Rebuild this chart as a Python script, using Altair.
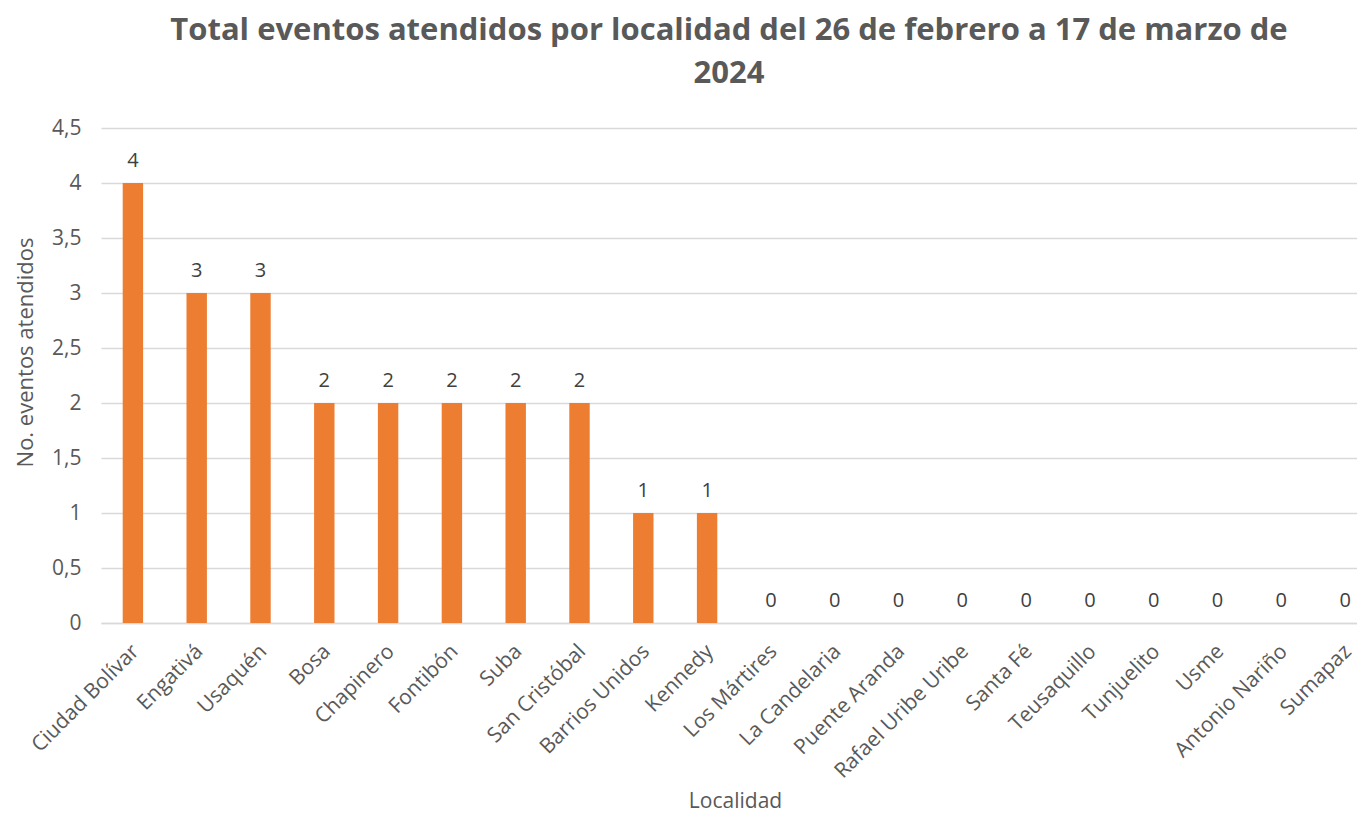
import altair as alt
import pandas as pd

localidades = ["Ciudad Bolívar", "Engativá", "Usaquén", "Bosa", "Chapinero", "Fontibón",
               "Suba", "San Cristóbal", "Barrios Unidos", "Kennedy", "Los Mártires",
               "La Candelaria", "Puente Aranda", "Rafael Uribe Uribe", "Santa Fé",
               "Teusaquillo", "Tunjuelito", "Usme", "Antonio Nariño", "Sumapaz"]
eventos = [4, 3, 3, 2, 2, 2, 2, 2, 1, 1, 0, 0, 0, 0, 0, 0, 0, 0, 0, 0]

df = pd.DataFrame({"Localidad": localidades, "Eventos": eventos})

FONT = "Open Sans"
GRAY = "#595959"

xscale = alt.Scale(paddingInner=0.68, paddingOuter=0.34, range=[0, 1276])

x = alt.X("Localidad:N", sort=localidades, scale=xscale,
          axis=alt.Axis(title="Localidad", labelAngle=-45, labelAlign="right",
                        labelBaseline="middle", labelFontSize=21, labelColor=GRAY,
                        labelFont=FONT, labelPadding=25, labelOffset=3, ticks=False,
                        domainColor="#d9d9d9", domainWidth=1.5, titleFont=FONT,
                        titleFontSize=21, titleFontWeight="normal", titleColor=GRAY,
                        titleY=167, titleX=634, titleAlign="center",
                        titleBaseline="top", grid=False, labelLimit=300))
y = alt.Y("Eventos:Q",
          scale=alt.Scale(domain=[0, 4.5], nice=False),
          axis=alt.Axis(title="No. eventos atendidos", values=[0, 0.5, 1, 1.5, 2, 2.5, 3, 3.5, 4, 4.5],
                        labelExpr="replace(format(datum.value, '.1~f'), '.', ',')",
                        labelFontSize=21, labelColor=GRAY, labelFont=FONT, labelPadding=20,
                        ticks=False, domain=False, gridColor="#d9d9d9", gridWidth=1.5,
                        titleFont=FONT, titleFontSize=22, titleFontWeight="normal",
                        titleColor=GRAY, titleX=-76, titleY=224, titleBaseline="middle",
                        titleAlign="center", titleAngle=-90))

bars = alt.Chart(df).mark_bar(color="#ED7D31").encode(x=x, y=y)
labels = alt.Chart(df).mark_text(baseline="bottom", dy=-12, fontSize=20, font=FONT,
                                 color="#404040").encode(
    x=alt.X("Localidad:N", sort=localidades, scale=xscale), y="Eventos:Q", text="Eventos:Q")

chart = (bars + labels).properties(
    width=1256, height=495,
    title=alt.Title(["Total eventos atendidos por localidad del 26 de febrero a 17 de marzo de", "2024"],
                    fontSize=31, font=FONT, fontWeight="bold", color=GRAY,
                    anchor="middle", offset=27, lineHeight=43),
    autosize=alt.AutoSizeParams(type="none"),
    padding={"left": 93, "top": 120, "right": 0, "bottom": 191},
).configure_view(stroke=None)

chart.save("out.html", embed_options={"renderer": "svg", "actions": False})
